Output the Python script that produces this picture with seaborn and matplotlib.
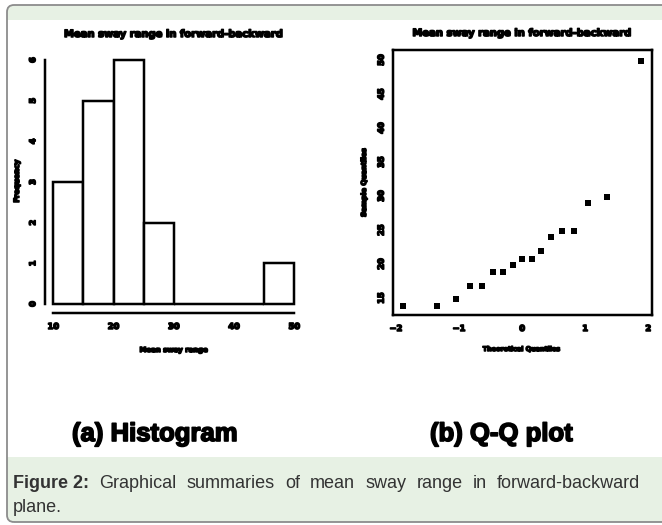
import matplotlib
matplotlib.use("Agg")
import matplotlib.pyplot as plt
import matplotlib.patches as mpatches
import matplotlib.patheffects as pe
from matplotlib.transforms import IdentityTransform
import numpy as np
import pandas as pd
import seaborn as sns

# Mean sway range, forward-backward plane (sorted sample)
sway = [13.8, 13.8, 14.8, 16.8, 16.8, 18.8, 18.8, 19.8, 20.8, 20.8,
        21.9, 23.9, 24.9, 24.9, 28.9, 29.9, 49.9]
# Normal theoretical quantiles paired with the sorted sample
theo = [-1.89, -1.35, -1.05, -0.82, -0.63, -0.46, -0.30, -0.15, 0.0,
        0.15, 0.30, 0.46, 0.63, 0.82, 1.05, 1.35, 1.89]
hist_edges = [10, 15, 20, 25, 30, 35, 40, 45, 50]
hist_xticks = [10, 20, 30, 40, 50]
hist_yticks = [0, 1, 2, 3, 4, 5, 6]
qq_xticks = [-2, -1, 0, 1, 2]
qq_yticks = [15, 20, 25, 30, 35, 40, 45, 50]

panel_title = "Mean sway range in forward-backward"
hist_xlabel = "Mean sway range"
hist_ylabel = "Frequency"
qq_xlabel = "Theoretical Quantiles"
qq_ylabel = "Sample Quantiles"
sub_a = "(a) Histogram"
sub_b = "(b) Q-Q plot"
cap_bold = "Figure 2:"
cap_rest = "Graphical summaries of mean sway range in forward-backward"
cap_line2 = "plane."

df = pd.DataFrame({"theoretical": theo, "sample": sway})

sns.set_theme(style="white")
plt.rcParams["font.family"] = ["DejaVu Sans"]

W, H = 662, 525
fig = plt.figure(figsize=(W / 100, H / 100), dpi=100)
fig.patch.set_facecolor("white")

PX = 0.72  # points per pixel at 100 dpi
GREEN = "#e7f1e4"
LW = 2.5 * PX
HEAVY = [pe.withStroke(linewidth=1.1, foreground="black")]
TXT = dict(fontweight="bold", color="black", path_effects=HEAVY)


def ax_rect(x0, y0, x1, y1):
    return [x0 / W, 1 - y1 / H, (x1 - x0) / W, (y1 - y0) / H]


def heavy_ticks(ax):
    for lab in ax.get_xticklabels() + ax.get_yticklabels():
        lab.set_fontweight("bold")
        lab.set_path_effects(HEAVY)
    for lab in ax.get_yticklabels():
        lab.set_va("center")


# ---- page frame with green header/footer bands ----
ident = IdentityTransform()
frame = mpatches.FancyBboxPatch((7, H - 522), 720, 517,
                                boxstyle="round,pad=0,rounding_size=7",
                                transform=ident, facecolor="white",
                                edgecolor="none", zorder=-3)
fig.patches.append(frame)
for (yt, yb) in [(5, 20), (457, 522)]:
    band = mpatches.Rectangle((0, H - yb), W + 20, yb - yt, transform=ident,
                              facecolor=GREEN, edgecolor="none", zorder=-2)
    band.set_clip_path(frame)
    fig.patches.append(band)
edge = mpatches.FancyBboxPatch((7, H - 522), 720, 517,
                               boxstyle="round,pad=0,rounding_size=7",
                               transform=ident, facecolor="none",
                               edgecolor="#8c8c8c", linewidth=1.3, zorder=-1)
fig.patches.append(edge)

# ---- (a) histogram ----
ax1 = fig.add_axes(ax_rect(53.3, 60, 294.3, 304))
ax1.set_zorder(2)
ax1.patch.set_alpha(0)
sns.histplot(data=df, x="sample", bins=hist_edges, ax=ax1, color="white",
             edgecolor="black", linewidth=LW, alpha=1)
for p in ax1.patches:
    p.set_clip_on(False)
    p.set_joinstyle("miter")
ax1.set_xlim(10, 50)
ax1.set_ylim(0, 6)
for s in ["top", "right"]:
    ax1.spines[s].set_visible(False)
ax1.spines["left"].set_position(("outward", 8 * PX))
ax1.spines["bottom"].set_position(("outward", 9 * PX))
ax1.spines["left"].set_bounds(0, 6)
ax1.spines["bottom"].set_bounds(10, 50)
for s in ["left", "bottom"]:
    ax1.spines[s].set_linewidth(LW)
    ax1.spines[s].set_color("black")
ax1.set_xticks(hist_xticks)
ax1.set_yticks(hist_yticks)
ax1.tick_params(axis="both", direction="out", length=4 * PX, width=LW,
                colors="black", labelsize=6)
ax1.tick_params(axis="x", pad=5 * PX)
ax1.tick_params(axis="y", pad=4 * PX, labelrotation=90)
heavy_ticks(ax1)
ax1.set_xlabel(hist_xlabel, fontsize=5, **TXT)
ax1.set_ylabel(hist_ylabel, fontsize=5.3, **TXT)
ax1.xaxis.set_label_coords((174 - 53.3) / 241, (304 - 347) / 244)
ax1.yaxis.set_label_coords((20 - 53.3) / 241, (304 - 181) / 244)
ax1.set_title(panel_title, fontsize=7.2, pad=23 * PX, **TXT)

# ---- (b) normal Q-Q plot ----
ax2 = fig.add_axes(ax_rect(392.7, 50, 651.7, 315))
ax2.set_zorder(2)
ax2.patch.set_alpha(0)
sns.scatterplot(data=df, x="theoretical", y="sample", ax=ax2, marker="s",
                s=19, color="black", linewidth=0)
ax2.set_xlim(-2.052, 2.054)
ax2.set_ylim(12.5, 51.47)
for s in ax2.spines.values():
    s.set_visible(True)
    s.set_linewidth(LW)
    s.set_color("black")
ax2.set_xticks(qq_xticks)
ax2.set_yticks(qq_yticks)
ax2.tick_params(axis="both", direction="out", length=4 * PX, width=LW,
                colors="black", labelsize=6)
ax2.tick_params(axis="x", pad=5 * PX)
ax2.tick_params(axis="y", pad=3 * PX, labelrotation=90)
heavy_ticks(ax2)
ax2.set_xlabel(qq_xlabel, fontsize=4.6, **TXT)
ax2.set_ylabel(qq_ylabel, fontsize=5, **TXT)
ax2.xaxis.set_label_coords((521.5 - 392.7) / 259, (315 - 347) / 265)
ax2.yaxis.set_label_coords((367 - 392.7) / 259, (315 - 182) / 265)
ax2.set_title(panel_title, fontsize=7.2, pad=14 * PX, **TXT)

# ---- sub-captions ----
sub_font = dict(family=["Liberation Sans", "DejaVu Sans"], fontweight="bold",
                fontsize=18.5, color="black", va="center",
                path_effects=[pe.withStroke(linewidth=1.2, foreground="black")])
fig.text(72 / W, 1 - 434 / H, sub_a, ha="left", **sub_font)
fig.text(430 / W, 1 - 434 / H, sub_b, ha="left", **sub_font)

# ---- justified figure caption ----
cap_font = dict(family=["Liberation Sans", "DejaVu Sans"], fontsize=13,
                va="center", color="#333333")
fig.canvas.draw()
renderer = fig.canvas.get_renderer()
words = [(cap_bold, "bold")] + [(w, "normal") for w in cap_rest.split()]
x_left, x_right, y1 = 13, 640, 484
artists = []
for w, weight in words:
    t = fig.text(0, 0, w, fontweight=weight, **cap_font)
    artists.append(t)
widths = [a.get_window_extent(renderer).width for a in artists]
gap = (x_right - x_left - sum(widths)) / (len(words) - 1)
x = x_left
for a, wd in zip(artists, widths):
    a.set_position((x / W, 1 - y1 / H))
    x += wd + gap
fig.text(x_left / W, 1 - 507 / H, cap_line2, **cap_font)

fig.savefig("out.png", dpi=100, facecolor="white")
